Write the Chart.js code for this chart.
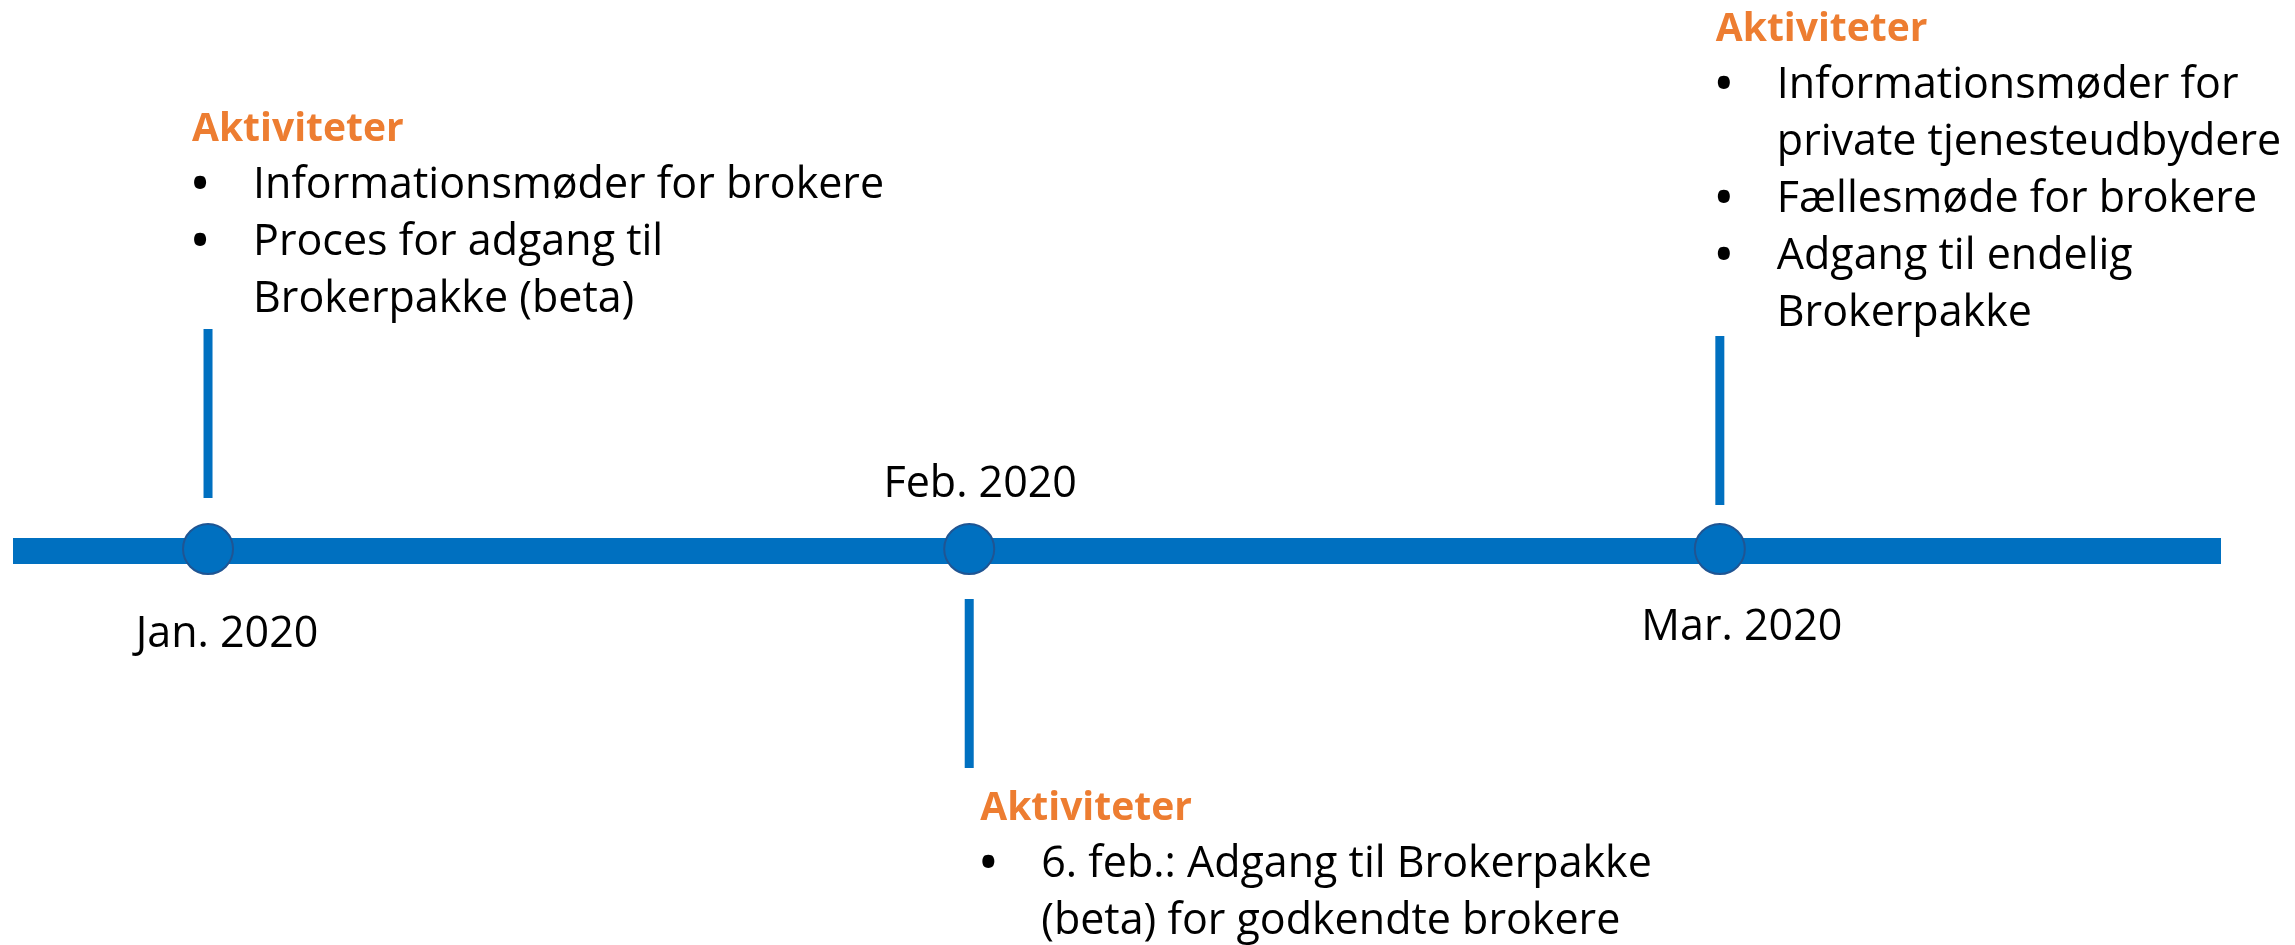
<!DOCTYPE html>
<html>
<head>
<meta charset="utf-8">
<script src="https://cdn.jsdelivr.net/npm/chart.js@4.4.1/dist/chart.umd.min.js"></script>
<style>
  html, body { margin: 0; padding: 0; background: #fff; }
  #wrap { width: 2295px; height: 945px; position: relative; }
</style>
</head>
<body>
<div id="wrap"><canvas id="timeline"></canvas></div>
<script>
// ---------------- data ----------------
const months = ['Jan. 2020', 'Feb. 2020', 'Mar. 2020'];
const monthPos = [0, 1.007, 2];
const heading = 'Aktiviteter';

const janActivities = [
    ['Informationsmøder for brokere'],
    ['Proces for adgang til', 'Brokerpakke (beta)']
];
const febActivities = [
    ['6. feb.: Adgang til Brokerpakke', '(beta) for godkendte brokere']
];
const marActivities = [
    ['Informationsmøder for', 'private tjenesteudbydere'],
    ['Fællesmøde for brokere'],
    ['Adgang til endelig', 'Brokerpakke']
];
const activities = [janActivities, febActivities, marActivities];

// ---------------- look ----------------
const BLUE = '#0070C0';
const ORANGE = '#ED7D31';
const FONT = '"Open Sans", Lato, sans-serif';
const FONT_SIZE = 43;
const LINE_H = 57;

// y scale is "pixels above the timeline", so the layout numbers below read easily
const stemFrom = [53, -48, 46];
const stemTo = [222, -217, 215];
const blockBaseline = [410, -269, 510];   // baseline of "Aktiviteter"
const blockShift = [-16, 11, -4];
const labelBaseline = [-96, 54, -89];
const labelShift = [19, 11, 22];

const stemSets = monthPos.map((x, i) => ({
    type: 'line',
    data: [{ x: x, y: stemFrom[i] }, { x: x, y: stemTo[i] }],
    borderColor: BLUE,
    borderWidth: 9,
    borderCapStyle: 'butt',
    pointRadius: 0,
    order: 2
}));

// tekst-blokke og maaneds-labels
const textPlugin = {
    id: 'timelineText',
    afterDatasetsDraw(chart) {
        const ctx = chart.ctx;
        const xs = chart.scales.x;
        const ys = chart.scales.y;
        ctx.save();
        ctx.textBaseline = 'alphabetic';

        monthPos.forEach((m, i) => {
            const px = xs.getPixelForValue(m);

            // maaned under/over linjen
            ctx.font = FONT_SIZE + 'px ' + FONT;
            ctx.fillStyle = '#000';
            ctx.textAlign = 'center';
            ctx.fillText(months[i], px + labelShift[i], ys.getPixelForValue(labelBaseline[i]));

            // aktiviteter
            let y = ys.getPixelForValue(blockBaseline[i]);
            const left = px + blockShift[i];
            ctx.textAlign = 'left';
            ctx.font = 'bold 39px ' + FONT;
            ctx.fillStyle = ORANGE;
            ctx.fillText(heading, left, y);

            ctx.fillStyle = '#000';
            for (const item of activities[i]) {
                item.forEach((line, k) => {
                    y += LINE_H;
                    if (k === 0) {
                        ctx.font = 'bold ' + FONT_SIZE + 'px ' + FONT;
                        ctx.textAlign = 'center';
                        ctx.fillText('•', left + 8, y);
                    }
                    ctx.font = FONT_SIZE + 'px ' + FONT;
                    ctx.textAlign = 'left';
                    ctx.fillText(line, left + 61, y);
                });
            }
        });
        ctx.restore();
    }
};

new Chart(document.getElementById('timeline'), {
    type: 'line',
    data: {
        datasets: [
            {
                type: 'scatter',
                data: monthPos.map(x => ({ x: x, y: 2 })),
                pointRadius: 25,
                pointBackgroundColor: BLUE,
                pointBorderColor: '#1F5593',
                pointBorderWidth: 2,
                order: 0
            },
            ...stemSets,
            {
                type: 'line',
                data: [{ x: -0.258, y: 0 }, { x: 2.663, y: 0 }],
                borderColor: BLUE,
                borderWidth: 26,
                borderCapStyle: 'butt',
                pointRadius: 0,
                order: 3
            }
        ]
    },
    options: {
        responsive: true,
        maintainAspectRatio: false,
        animation: false,
        layout: { autoPadding: false, padding: { left: 13, right: 74, top: 0, bottom: 0 } },
        plugins: { legend: { display: false }, tooltip: { enabled: false } },
        scales: {
            x: { type: 'linear', min: -0.258, max: 2.663, display: false },
            y: { type: 'linear', min: -394, max: 551, display: false }
        }
    },
    plugins: [textPlugin]
});
</script>
</body>
</html>
